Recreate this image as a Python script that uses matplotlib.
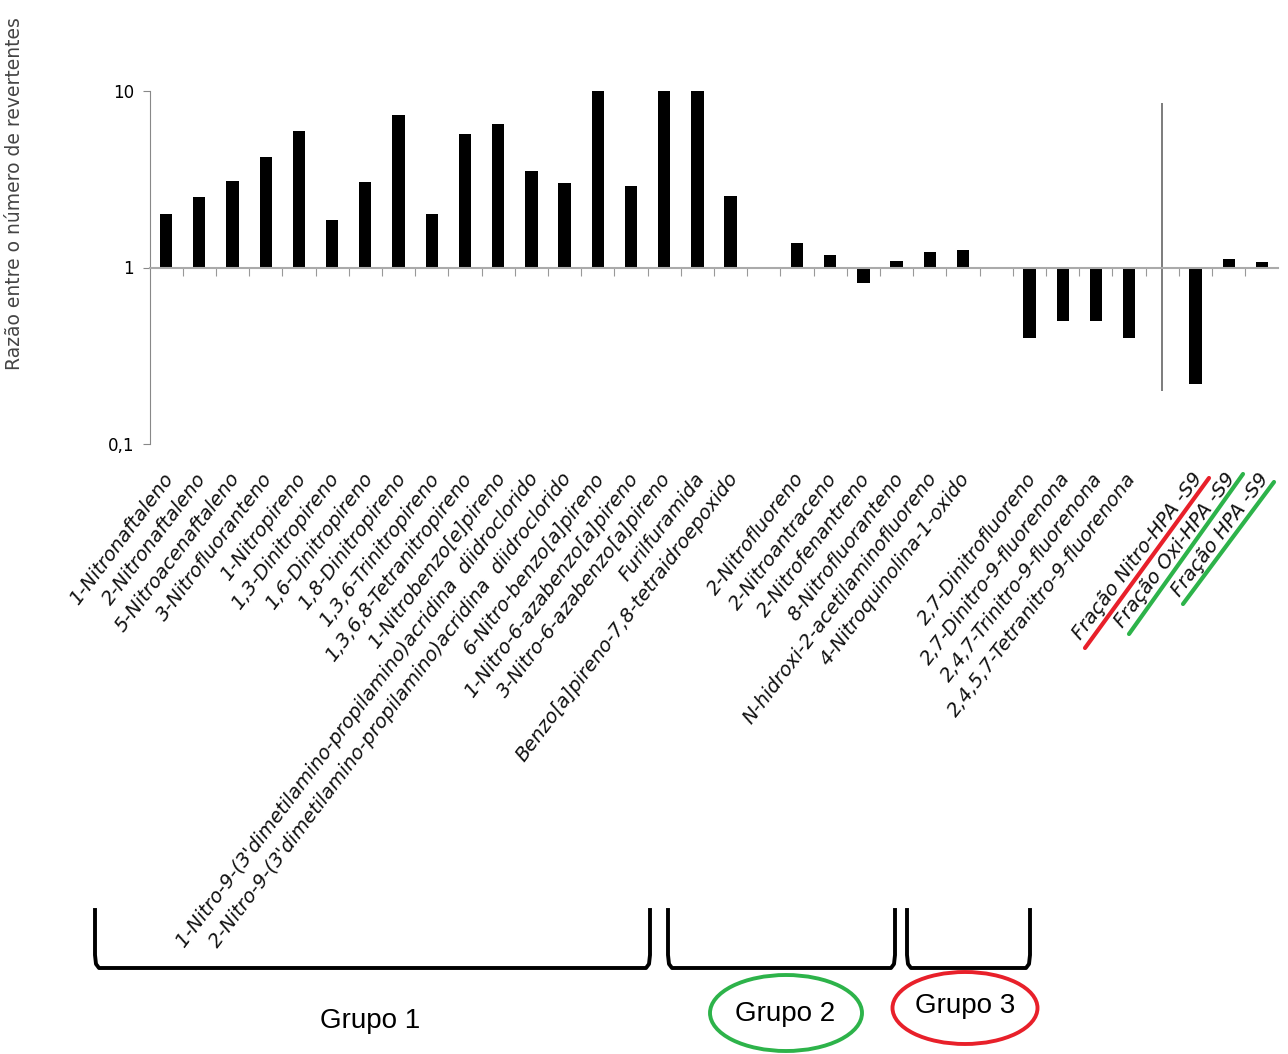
import matplotlib
matplotlib.use('Agg')
import matplotlib.pyplot as plt
from matplotlib.lines import Line2D
from matplotlib.patches import Ellipse
import numpy as np

# categories (empty string = gap slot)
grupo1 = ['1-Nitronaftaleno', '2-Nitronaftaleno', '5-Nitroacenaftaleno', '3-Nitrofluoranteno',
          '1-Nitropireno', '1,3-Dinitropireno', '1,6-Dinitropireno', '1,8-Dinitropireno',
          '1,3,6-Trinitropireno', '1,3,6,8-Tetranitropireno', '1-Nitrobenzo[e]pireno',
          "1-Nitro-9-(3'dimetilamino-propilamino)acridina  diidroclorido",
          "2-Nitro-9-(3'dimetilamino-propilamino)acridina  diidroclorido",
          '6-Nitro-benzo[a]pireno', '1-Nitro-6-azabenzo[a]pireno', '3-Nitro-6-azabenzo[a]pireno',
          'Furilfuramida', 'Benzo[a]pireno-7,8-tetraidroepoxido']
grupo2 = ['2-Nitrofluoreno', '2-Nitroantraceno', '2-Nitrofenantreno', '8-Nitrofluoranteno',
          'N-hidroxi-2-acetilaminofluoreno', '4-Nitroquinolina-1-oxido']
grupo3 = ['2,7-Dinitrofluoreno', '2,7-Dinitro-9-fluorenona', '2,4,7-Trinitro-9-fluorenona',
          '2,4,5,7-Tetranitro-9-fluorenona']
fracoes = ['Fração Nitro-HPA -S9', 'Fração Oxi-HPA -S9', 'Fração HPA -S9']

# razao entre o numero de revertentes
val_g1 = [2.0, 2.5, 3.1, 4.2, 5.9, 1.85, 3.05, 7.3, 2.0, 5.7, 6.5, 3.5, 3.0, 10, 2.9, 10, 10, 2.55]
val_g2 = [1.38, 1.17, 0.82, 1.09, 1.23, 1.26]
val_g3 = [0.40, 0.50, 0.50, 0.40]
val_fr = [0.22, 1.12, 1.08]

labels = grupo1 + [''] + grupo2 + [''] + grupo3 + [''] + fracoes
values = val_g1 + [np.nan] + val_g2 + [np.nan] + val_g3 + [np.nan] + val_fr
x = np.arange(len(labels))

W, H = 1288, 1054
fig = plt.figure(figsize=(W / 100, H / 100), dpi=100)
ax = fig.add_axes([149.5 / W, 1 - 444 / H, 1129 / W, 353 / H])

vals = np.array(values, dtype=float)
ax.bar(x, vals - 1, bottom=1, width=0.37, color='black')

ax.set_yscale('log')
ax.set_ylim(0.1, 10)
ax.set_xlim(-0.5, len(labels) - 0.5)

ax.set_yticks([0.1, 1, 10])
ax.set_yticklabels(['0,1', '1', '10'])
ax.yaxis.set_minor_locator(matplotlib.ticker.NullLocator())
ax.tick_params(axis='y', length=5, color='#888888', labelsize=12, pad=6)

ax.spines['top'].set_visible(False)
ax.spines['right'].set_visible(False)
ax.spines['left'].set_color('#888888')
ax.spines['bottom'].set_position(('data', 1))
ax.spines['bottom'].set_color('#aaaaaa')
ax.spines['bottom'].set_linewidth(1.5)
ax.set_xticks(np.arange(len(labels) - 1) + 0.5)
ax.set_xticklabels([])
ax.tick_params(axis='x', length=6, color='#999999', direction='out')

# separator before the fractions
ax.vlines(30, 0.2, 8.5, color='#666666', lw=1.2)

# rotated category labels
tr = ax.get_xaxis_transform()
for xi, lab in zip(x, labels):
    if lab:
        ax.text(xi + 0.1, -0.088, lab, transform=tr, rotation=53, rotation_mode='anchor',
                ha='right', va='center', fontsize=14, style='italic',
                family='DejaVu Sans', color='#111111')

fig.text(15 / W, 1 - 194 / H, 'Razão entre o número de revertentes', rotation=90,
         ha='center', va='center', fontsize=13.5, color='#444444')

def fx(p):
    return p / W

def fy(p):
    return 1 - p / H

# colored underlines for the fractions
for (x0, y0, x1, y1), c in [((1085, 648, 1209, 478), '#e8202a'),
                            ((1129, 634, 1243, 474), '#2db34a'),
                            ((1183, 604, 1274, 482), '#2db34a')]:
    fig.add_artist(Line2D([fx(x0), fx(x1)], [fy(y0), fy(y1)], color=c, lw=3,
                          solid_capstyle='round'))

# group brackets
for left, right in [(95, 650), (668, 895), (907, 1030)]:
    xs = [left, left, left + 1, left + 4, right - 4, right - 1, right, right]
    ys = [910, 955, 964, 968, 968, 964, 955, 910]
    fig.add_artist(Line2D([fx(v) for v in xs], [fy(v) for v in ys],
                          color='black', lw=2.8, solid_joinstyle='round'))

grp_font = ['Liberation Sans Narrow', 'Liberation Sans']
fig.text(fx(370), fy(1021), 'Grupo 1', ha='center', va='center', fontsize=20, family=grp_font)
fig.text(fx(785), fy(1014), 'Grupo 2', ha='center', va='center', fontsize=20, family=grp_font)
fig.text(fx(965), fy(1006), 'Grupo 3', ha='center', va='center', fontsize=20, family=grp_font)

fig.add_artist(Ellipse((fx(786), fy(1013)), 152 / W, 76 / H, transform=fig.transFigure,
                       fill=False, edgecolor='#2db34a', lw=2.8))
fig.add_artist(Ellipse((fx(965), fy(1008)), 145 / W, 72 / H, transform=fig.transFigure,
                       fill=False, edgecolor='#e8202a', lw=2.8))

fig.savefig('out.png', dpi=100)
